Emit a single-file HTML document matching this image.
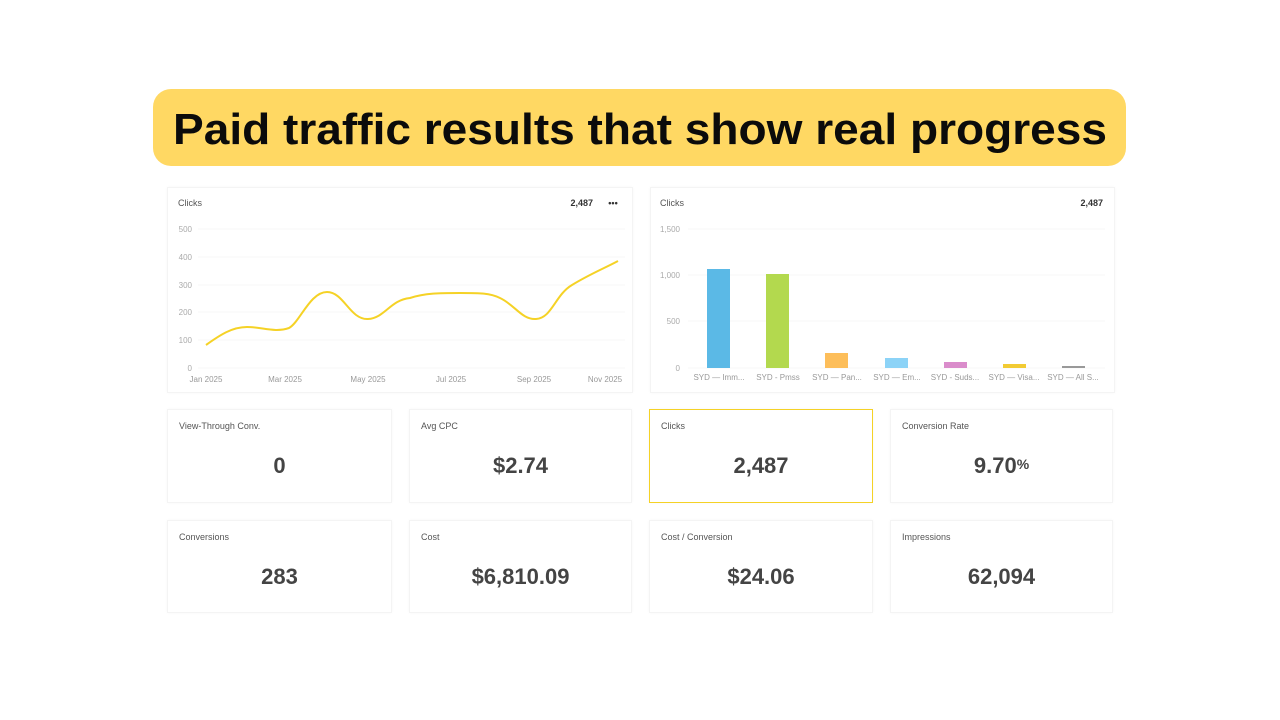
<!DOCTYPE html>
<html><head><meta charset="utf-8"><style>
body{margin:0;width:1280px;height:720px;background:#fff;position:relative;overflow:hidden;font-family:"Liberation Sans",sans-serif}
.card{position:absolute;background:#fff;border:1px solid #f4f4f4;box-shadow:0 0 3px rgba(0,0,0,0.03);box-sizing:border-box}
.lab{position:absolute;left:11px;top:11px;font-size:9px;color:#555}
.val{position:absolute;left:0;right:0;top:43px;text-align:center;font-size:22px;font-weight:bold;color:#444}
</style></head><body>
<svg style="position:absolute;left:0;top:0" width="1280" height="720">
<rect x="153" y="89" width="973" height="77" rx="18" fill="#FFD863"/>
<text x="173" y="144" font-family="Liberation Sans,sans-serif" font-weight="bold" font-size="44" fill="#0b0b0b" textLength="934" lengthAdjust="spacingAndGlyphs">Paid traffic results that show real progress</text>
</svg>
<div class="card" style="left:167px;top:187px;width:466px;height:206px"></div>
<div class="card" style="left:650px;top:187px;width:465px;height:206px"></div>
<svg style="position:absolute;left:0;top:0" width="1280" height="720" font-family="Liberation Sans,sans-serif">
<text x="178" y="206" font-size="9" fill="#555">Clicks</text>
<text x="593" y="206" font-size="9" font-weight="bold" fill="#333" text-anchor="end">2,487</text>
<text x="613" y="206" font-size="9" font-weight="bold" fill="#333" text-anchor="middle">•••</text>
<g stroke="#f7f7f7" stroke-width="1">
<line x1="198" x2="625" y1="229" y2="229"/><line x1="198" x2="625" y1="257" y2="257"/><line x1="198" x2="625" y1="285" y2="285"/><line x1="198" x2="625" y1="312" y2="312"/><line x1="198" x2="625" y1="340" y2="340"/><line x1="198" x2="625" y1="368" y2="368"/>
</g>
<g font-size="8" fill="#aaa" text-anchor="end">
<text x="192" y="232">500</text><text x="192" y="260">400</text><text x="192" y="288">300</text><text x="192" y="315">200</text><text x="192" y="343">100</text><text x="192" y="371">0</text>
</g>
<g font-size="8" fill="#999" text-anchor="middle">
<text x="206" y="382">Jan 2025</text><text x="285" y="382">Mar 2025</text><text x="368" y="382">May 2025</text><text x="451" y="382">Jul 2025</text><text x="534" y="382">Sep 2025</text><text x="605" y="382">Nov 2025</text>
</g>
<path d="M206,345 C220,335 232,327 247,327 C262,327 275,333 289,328 C300,322 310,292 327,292 C344,292 350,320 368,319 C385,318 390,300 410,298 C425,293 440,293 460,293 C480,293 490,293 500,298 C515,305 522,320 536,319 C552,318 555,295 572,285 C590,274 605,268 618,261" fill="none" stroke="#F5D226" stroke-width="2"/>

<text x="660" y="206" font-size="9" fill="#555">Clicks</text>
<text x="1103" y="206" font-size="9" font-weight="bold" fill="#333" text-anchor="end">2,487</text>
<g stroke="#f7f7f7"><line x1="688" x2="1105" y1="229" y2="229"/><line x1="688" x2="1105" y1="275" y2="275"/><line x1="688" x2="1105" y1="321" y2="321"/><line x1="688" x2="1105" y1="368" y2="368"/></g>
<g font-size="8" fill="#aaa" text-anchor="end"><text x="680" y="232">1,500</text><text x="680" y="278">1,000</text><text x="680" y="324">500</text><text x="680" y="371">0</text></g>
<rect x="707" y="269" width="23" height="99" fill="#5BB9E6"/>
<rect x="766" y="274" width="23" height="94" fill="#B3D94E"/>
<rect x="825" y="353" width="23" height="15" fill="#FDBE5A"/>
<rect x="885" y="358" width="23" height="10" fill="#8CD3F7"/>
<rect x="944" y="362" width="23" height="6" fill="#DA8CCB"/>
<rect x="1003" y="364" width="23" height="4" fill="#F2CB33"/>
<rect x="1062" y="366" width="23" height="2" fill="#999"/>
<g font-size="8" fill="#999" text-anchor="middle">
<text x="719" y="380">SYD — Imm...</text><text x="778" y="380">SYD - Pmss</text><text x="837" y="380">SYD — Pan...</text><text x="897" y="380">SYD — Em...</text><text x="955" y="380">SYD - Suds...</text><text x="1014" y="380">SYD — Visa...</text><text x="1073" y="380">SYD — All S...</text>
</g>
</svg>
<div class="card" style="left:167px;top:409px;width:225px;height:94px"><div class="lab">View-Through Conv.</div><div class="val">0</div></div>
<div class="card" style="left:409px;top:409px;width:223px;height:94px"><div class="lab">Avg CPC</div><div class="val">$2.74</div></div>
<div class="card" style="left:649px;top:409px;width:224px;height:94px;border:1px solid #F5D226"><div class="lab">Clicks</div><div class="val">2,487</div></div>
<div class="card" style="left:890px;top:409px;width:223px;height:94px"><div class="lab">Conversion Rate</div><div class="val">9.70<span style="font-size:14px;vertical-align:4px">%</span></div></div>
<div class="card" style="left:167px;top:520px;width:225px;height:93px"><div class="lab">Conversions</div><div class="val">283</div></div>
<div class="card" style="left:409px;top:520px;width:223px;height:93px"><div class="lab">Cost</div><div class="val">$6,810.09</div></div>
<div class="card" style="left:649px;top:520px;width:224px;height:93px"><div class="lab">Cost / Conversion</div><div class="val">$24.06</div></div>
<div class="card" style="left:890px;top:520px;width:223px;height:93px"><div class="lab">Impressions</div><div class="val">62,094</div></div>
</body></html>
